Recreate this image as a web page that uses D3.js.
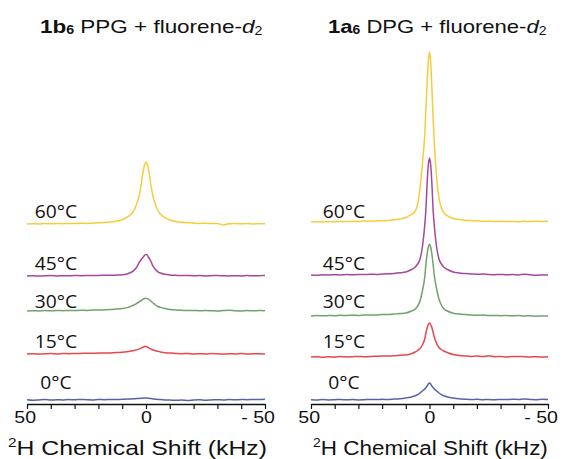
<!DOCTYPE html>
<html>
<head>
<meta charset="utf-8">
<script src="https://cdn.jsdelivr.net/npm/d3@7"></script>
<style>
  html, body { margin: 0; padding: 0; background: #fff; }
  svg { display: block; }
</style>
</head>
<body>
<div id="chart"></div>
<script>
// chemical shift grid (kHz), shared by every trace
const kHz = [50, 47.5, 45, 42.5, 40, 37.5, 35, 32.5, 30, 27.5, 25, 22.5, 20, 17.5, 15, 12.5, 10,
  8, 6, 5, 4, 3, 2, 1.5, 1, 0.5, 0, -0.5, -1, -1.5, -2, -3, -4, -5, -6, -8,
  -10, -12.5, -15, -17.5, -20, -22.5, -25, -27.5, -30, -32.5, -35, -37.5, -40, -42.5, -45, -47.5, -50];

const temps = ["0°C", "15°C", "30°C", "45°C", "60°C"];
const axisLabels = { 50: "50", 0: "0", "-50": "- 50" };

// 1b6 PPG + fluorene-d2 (intensity, arbitrary units)
const ppgOffsets = [0, 46, 89, 124, 176];
const ppg0 = [0.2, -0.3, 0.1, 0.4, -0.1, 0.3, 0.0, 0.5, 0.2, 0.6, 0.3, 0.1, 0.5, 0.3, 0.6, 0.4, 0.8,
  0.9, 1.1, 1.2, 1.4, 1.5, 1.7, 1.8, 1.9, 2.0, 2.0, 1.9, 1.8, 1.6, 1.4, 1.1, 0.8, 0.6, 0.4, 0.1,
  0.0, -0.3, -0.1, -0.4, 0.0, 0.2, -0.2, 0.1, 0.3, 0.0, 0.4, 0.2, 0.5, 0.3, 0.6, 0.4, 0.7];
const ppg15 = [0.1, 0.3, -0.1, 0.2, 0.4, 0.1, 0.5, 0.3, 0.6, 0.5, 0.8, 0.7, 0.9, 1.0, 1.1, 1.4, 1.8,
  2.3, 3.0, 3.5, 4.1, 4.9, 5.9, 6.5, 7.1, 7.5, 7.4, 7.0, 6.4, 5.7, 5.0, 4.0, 3.3, 2.6, 2.0, 1.3,
  0.9, 0.6, 0.3, 0.5, 0.1, 0.3, 0.0, 0.4, 0.2, -0.1, 0.3, 0.1, 0.4, 0.0, 0.2, 0.3, 0.1];
const ppg30 = [0.0, 0.3, 0.1, 0.4, 0.2, 0.5, 0.3, 0.6, 0.5, 0.7, 0.6, 0.9, 1.0, 1.2, 1.4, 1.9, 2.4,
  3.4, 5.0, 6.0, 7.5, 9.0, 10.5, 11.3, 12.0, 12.5, 12.7, 12.4, 11.8, 11.0, 10.0, 8.0, 6.0, 4.5, 3.6, 2.4,
  1.6, 1.0, 0.7, 0.4, 0.6, 0.2, 0.5, 0.3, 0.0, 0.4, 0.8, 0.3, 0.1, 0.4, 0.2, 0.5, 0.3];
const ppg45 = [0.0, 0.3, -0.1, 0.2, 0.4, 0.1, 0.3, 0.2, 0.5, 0.3, 0.4, 0.6, 0.5, 0.8, 0.7, 0.9, 1.2,
  2.0, 4.0, 5.8, 8.5, 12.8, 16.5, 18.0, 19.5, 21.0, 21.5, 21.0, 19.0, 17.0, 15.0, 9.5, 6.5, 4.2, 3.0, 1.7,
  1.1, 0.7, 0.4, 0.6, 0.2, 0.4, 0.1, 0.3, 0.5, 0.2, 0.0, 0.3, 0.1, 0.4, 0.2, 0.3, 0.5];
const ppg60 = [0.0, 0.3, 0.1, 0.4, 0.2, 0.5, 0.3, 0.6, 0.4, 0.7, 0.6, 0.9, 1.2, 1.5, 2.0, 2.8, 4.3,
  6.8, 10.5, 14.0, 19.5, 27.0, 40.0, 48.5, 55.0, 60.0, 62.0, 60.0, 55.0, 48.5, 40.0, 27.0, 19.0, 13.5, 10.0, 6.3,
  4.0, 2.6, 1.8, 1.3, 1.0, 0.6, 0.8, 0.4, 0.6, -0.9, 0.3, 0.5, 0.2, 0.4, 0.1, 0.3, 0.2];

// 1a6 DPG + fluorene-d2
const dpgOffsets = [0, 43, 84, 125, 178];
const dpg0 = [0.2, 0.0, 0.4, 0.1, 0.3, 0.5, 0.2, 0.4, 0.1, 0.3, 0.6, 0.4, 0.7, 0.5, 0.9, 1.3, 2.0,
  2.8, 4.3, 5.3, 7.0, 9.0, 11.0, 12.5, 14.0, 16.0, 17.0, 16.0, 14.0, 12.5, 11.0, 9.0, 7.0, 5.3, 4.2, 2.7,
  1.9, 1.2, 0.8, 0.5, 0.7, 0.3, 0.5, 0.2, 0.6, 0.4, 0.8, 0.5, 0.9, 0.6, 0.3, 0.7, 0.4];
const dpg15 = [0.0, 0.3, -0.2, 0.2, 0.0, 0.4, 0.1, 0.3, 0.6, 0.2, 0.5, 0.7, 0.9, 1.0, 1.3, 1.8, 2.0,
  3.0, 5.0, 6.5, 8.5, 12.0, 18.0, 24.0, 29.0, 32.5, 34.0, 32.5, 29.5, 25.0, 20.0, 13.5, 9.5, 7.5, 6.0, 4.0,
  2.5, 1.6, 1.1, 0.6, 0.9, 0.4, 1.2, 0.3, 0.5, 0.1, 0.4, 0.6, 0.2, 0.0, 0.3, -0.1, 0.2];
const dpg30 = [0.0, 0.4, 0.2, 0.5, 0.3, 0.7, 0.5, 0.8, 0.6, 1.0, 0.9, 1.1, 1.4, 1.6, 2.0, 2.4, 3.0,
  4.5, 7.0, 10.0, 15.0, 25.0, 39.0, 52.0, 62.0, 69.0, 72.0, 69.0, 62.0, 52.0, 41.0, 27.0, 17.0, 11.0, 7.5, 4.5,
  2.8, 1.9, 1.4, 1.0, 0.7, 0.9, 0.4, 0.6, 0.3, 0.5, 0.2, 0.4, 0.0, 0.3, -0.2, 0.1, -0.1];
const dpg45 = [0.0, -0.3, 0.2, 0.0, 0.3, 0.1, 0.4, 0.2, 0.5, 0.4, 0.7, 0.6, 0.9, 1.2, 1.6, 2.2, 3.0,
  5.0, 8.0, 11.0, 16.0, 28.0, 50.0, 66.0, 92.0, 110.0, 117.0, 110.0, 92.0, 66.0, 50.0, 28.0, 16.0, 11.0, 8.0, 5.0,
  3.0, 2.0, 1.5, 1.1, 0.7, 0.9, 0.5, 0.3, 0.6, 0.2, 0.4, 0.1, 0.8, 0.2, -0.3, 0.1, 0.0];
const dpg60 = [0.0, 0.3, 0.1, 0.4, 0.2, 0.6, 0.4, 0.7, 0.5, 0.9, 0.8, 1.0, 1.2, 1.6, 2.2, 3.0, 4.5,
  7.0, 11.0, 18.0, 34.0, 58.0, 88.0, 113.0, 140.0, 161.0, 170.0, 160.0, 135.0, 105.0, 80.0, 45.0, 24.0, 14.0, 9.5, 5.5,
  3.5, 2.4, 1.8, 1.4, 1.0, 0.7, 0.9, 0.5, 0.8, 0.4, 0.6, 0.3, 0.7, 0.4, 0.9, 0.5, 0.8];

const colors = ["#5563ad", "#e8474b", "#73a06f", "#a6479f", "#f5cd3a"];

const width = 565, height = 459;
const sansFont = '"Liberation Sans", Arial, sans-serif';

const panels = [
  { title: ["1b", "6", " PPG + fluorene-", "d", "2"], titleSpan: [40, 263],
    offsets: ppgOffsets, series: [ppg0, ppg15, ppg30, ppg45, ppg60],
    range: [27, 265], labelX: 56, axisTitleSpan: [8, 267] },
  { title: ["1a", "6", " DPG + fluorene-", "d", "2"], titleSpan: [328, 547],
    offsets: dpgOffsets, series: [dpg0, dpg15, dpg30, dpg45, dpg60],
    range: [311, 548], labelX: 344, axisTitleSpan: [313, 548] }
];

// temperature label baselines, bottom trace first
const labelY = [389, 348, 308.5, 270, 218.5];
const axisY = 404;

const svg = d3.select("#chart")
  .append("svg")
  .attr("width", width)
  .attr("height", height);

svg.append("rect").attr("width", width).attr("height", height).attr("fill", "#fff");

const y = d3.scaleLinear().domain([0, 350]).range([400, 50]);

// stretch a text element horizontally so it covers [x0, x1]
function fitText(sel, x0, x1) {
  const bb = sel.node().getBBox();
  const k = (x1 - x0) / bb.width;
  sel.attr("transform", `translate(${x0 - bb.x * k},0) scale(${k},1)`);
}

panels.forEach(p => {
  const x = d3.scaleLinear().domain([50, -50]).range(p.range);
  const g = svg.append("g");

  // spectra, stacked by offset
  p.series.forEach((vals, i) => {
    const line = d3.line()
      .x((d, j) => x(kHz[j]))
      .y(d => y(d + p.offsets[i]))
      .curve(d3.curveMonotoneX);
    g.append("path")
      .datum(vals)
      .attr("fill", "none")
      .attr("stroke", colors[i])
      .attr("stroke-width", 1.5)
      .attr("stroke-linejoin", "round")
      .attr("d", line);
  });

  // temperature labels
  temps.forEach((t, i) => {
    g.append("text")
      .attr("x", 0)
      .attr("y", labelY[i])
      .attr("text-anchor", "middle")
      .attr("font-family", '"Open Sans", sans-serif')
      .attr("font-size", 17.5)
      .attr("fill", "#111")
      .attr("transform", `translate(${p.labelX},0) scale(1.1,1)`)
      .text(t);
  });

  // x axis
  const axis = d3.axisBottom(x)
    .tickValues(d3.range(50, -51, -10))
    .tickSize(5)
    .tickSizeOuter(0)
    .tickFormat(d => axisLabels[d] || "");

  const ax = g.append("g")
    .attr("transform", `translate(0,${axisY})`)
    .call(axis);
  ax.select(".domain").attr("stroke", "#111").attr("stroke-width", 1.3);
  ax.selectAll(".tick line").attr("stroke", "#111").attr("stroke-width", 1.2);
  ax.selectAll(".tick text")
    .attr("font-family", sansFont)
    .attr("font-size", 17)
    .attr("fill", "#111")
    .attr("y", 19.5)
    .attr("dy", 0)
    .attr("x", d => d === 50 ? -2 : d === -50 ? -6.5 : 0)
    .attr("transform", "scale(1.15,1)");

  // axis title
  const at = g.append("text")
    .attr("y", 455)
    .attr("font-family", sansFont)
    .attr("font-size", 21)
    .attr("fill", "#111");
  at.append("tspan").attr("font-size", 13).attr("dy", -8).text("2");
  at.append("tspan").attr("dy", 8).text("H Chemical Shift (kHz)");
  fitText(at, p.axisTitleSpan[0], p.axisTitleSpan[1]);

  // panel title
  const tt = g.append("text")
    .attr("y", 33)
    .attr("font-family", sansFont)
    .attr("font-size", 19)
    .attr("fill", "#111");
  tt.append("tspan").attr("font-weight", "bold").text(p.title[0]);
  tt.append("tspan").attr("font-weight", "bold").attr("font-size", 12).attr("dy", 1).text(p.title[1]);
  tt.append("tspan").attr("dy", -1).text(p.title[2]);
  tt.append("tspan").attr("font-style", "italic").text(p.title[3]);
  tt.append("tspan").attr("font-size", 12).attr("dy", 2).text(p.title[4]);
  fitText(tt, p.titleSpan[0], p.titleSpan[1]);
});
</script>
</body>
</html>
